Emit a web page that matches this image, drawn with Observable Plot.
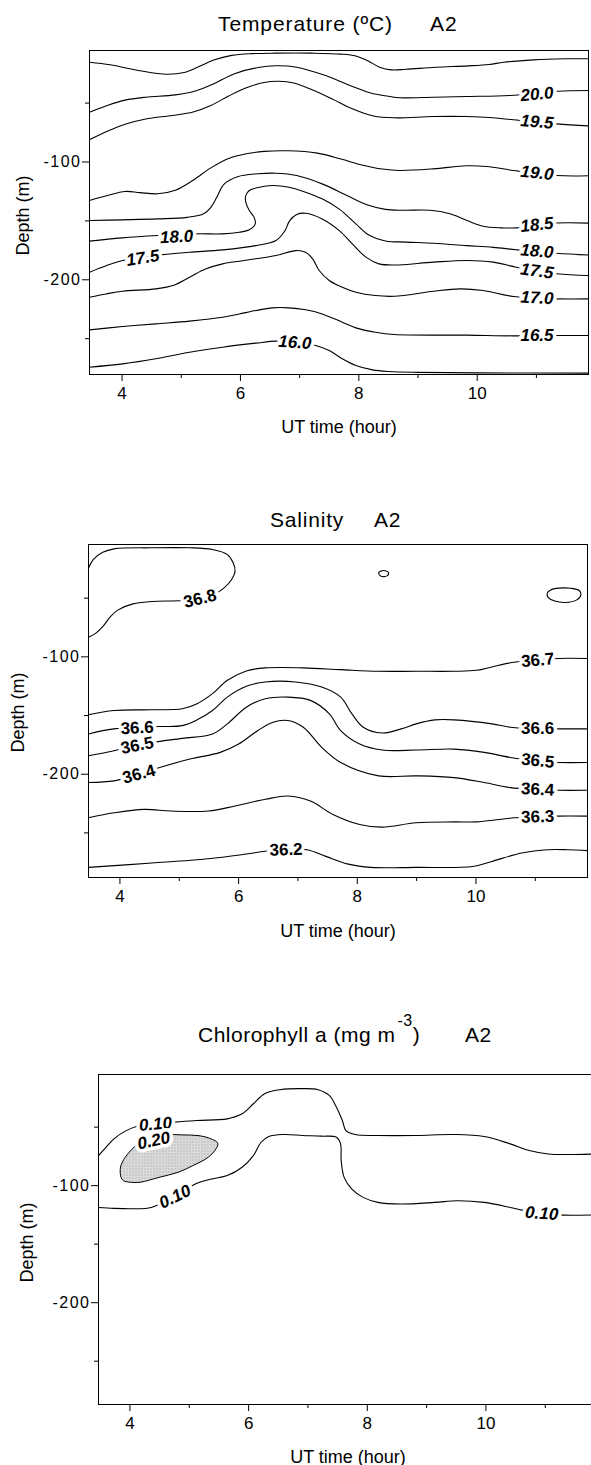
<!DOCTYPE html>
<html>
<head>
<meta charset="utf-8">
<script src="https://cdn.jsdelivr.net/npm/d3@7"></script>
<script src="https://cdn.jsdelivr.net/npm/@observablehq/plot@0.6"></script>
<style>
  html, body { margin: 0; padding: 0; background: #fff; }
  #root { position: relative; width: 591px; height: 1465px; overflow: hidden;
          font-family: "Liberation Sans", Arial, sans-serif; color: #000; background: #fff; }
  .ttl { position: absolute; font-size: 21px; line-height: 21px; white-space: pre; }
  .sup { position: relative; top: -16px; font-size: 16px; margin-left: 2px; }
  g[aria-label="y-axis tick label"] text { letter-spacing: 1.5px; }
  g[aria-label="axis-title"] text { letter-spacing: 1.2px; }
</style>
</head>
<body>
<div id="root"></div>
<script>
// ---------------- shared tick values ----------------
const X_MAJOR = [4, 6, 8, 10];
const X_MINOR = [5, 7, 9, 11];
const Y_MAJOR = [-100, -200];
const Y_MINOR = [-50, -150, -250];

// ---------------- Temperature (°C) isolines: [hour, depth m] ----------------
const t205 = [[3.45,-15.3],[3.8,-17.5],[4.3,-22.5],[4.75,-25.5],[5.05,-24.0],[5.3,-19],[5.55,-13.5],[5.85,-9.5],[6.2,-8],[6.6,-7.6],[7.2,-7.6],[7.7,-8.4],[7.95,-10],[8.15,-14],[8.35,-19.5],[8.55,-21.8],[8.8,-21.3],[9.3,-19.6],[9.85,-18.4],[10.2,-17.2],[10.45,-15.3],[10.95,-13.3],[11.5,-12.4],[11.88,-12.3]];
const t200 = [[3.45,-57.7],[3.75,-52],[4.05,-47.5],[4.4,-45],[4.9,-43],[5.25,-39.5],[5.55,-33.5],[5.9,-25],[6.3,-19.8],[6.6,-18.3],[6.95,-19.5],[7.4,-26],[7.85,-35],[8.2,-41.5],[8.5,-44.2],[8.69,-45.5],[9.26,-45],[9.82,-44.4],[10.55,-43.5],[11.36,-39.9],[11.88,-39.3]];
const t195 = [[3.45,-81.2],[3.75,-74],[4.05,-68],[4.4,-63.5],[4.85,-60.5],[5.2,-57.5],[5.5,-52],[5.8,-44],[6.1,-37],[6.4,-32.5],[6.65,-31.5],[6.9,-33],[7.2,-38.5],[7.55,-46.5],[7.9,-55],[8.25,-61],[8.6,-62.5],[9.26,-61.4],[9.82,-61.4],[10.27,-62.5],[10.61,-64.2],[11.34,-67.6],[11.88,-69.3]];
const t190 = [[3.45,-132.7],[3.75,-128.5],[4.05,-125],[4.3,-126],[4.6,-127],[4.9,-124],[5.2,-115.5],[5.5,-105],[5.8,-97],[6.1,-93],[6.4,-91],[6.8,-90.5],[7.3,-92.5],[7.7,-97.5],[8.05,-102.5],[8.4,-106],[8.69,-107.2],[9.26,-105.8],[9.82,-103.2],[10.16,-103.8],[10.61,-107.2],[11.34,-111.5],[11.88,-111.7]];
const t185 = [[3.45,-149.7],[4.0,-149.1],[4.6,-148.3],[5.1,-147],[5.38,-144],[5.5,-138.5],[5.6,-130],[5.72,-119],[5.95,-112.5],[6.3,-110],[6.6,-109.5],[6.95,-111.5],[7.4,-119],[7.8,-128.5],[8.15,-136.5],[8.45,-140.2],[8.75,-141],[9.2,-141],[9.54,-144],[9.82,-149.5],[10.1,-154.5],[10.4,-155.9],[10.66,-155.9],[11.34,-151.8],[11.88,-151.9]];
const t180 = [[3.45,-167.2],[4.0,-164.4],[4.6,-162.4],[5.25,-161],[5.7,-161],[5.98,-159.6],[6.15,-157.6],[6.25,-152.5],[6.23,-146.8],[6.15,-141.2],[6.09,-134.1],[6.09,-128.5],[6.15,-124.2],[6.32,-121.4],[6.54,-120],[6.82,-121.4],[7.1,-125.6],[7.38,-131.3],[7.67,-140],[7.95,-152.5],[8.17,-162],[8.45,-167],[8.8,-168],[9.26,-169],[9.82,-171],[10.27,-172.5],[10.66,-174.5],[11.34,-177.5],[11.88,-179]];
const t175 = [[3.45,-193.5],[3.73,-188],[4.01,-183.6],[4.69,-178.6],[5.14,-176.6],[5.7,-174.6],[6.26,-171],[6.6,-166.7],[6.75,-158.5],[6.83,-150],[6.95,-144.6],[7.1,-143.5],[7.38,-148.3],[7.67,-158.2],[7.89,-169.5],[8.12,-180.8],[8.34,-186.5],[8.6,-187.5],[9.26,-185],[9.82,-183.6],[10.27,-185],[10.66,-189.3],[11.34,-194.9],[11.88,-196.3]];
const t170 = [[3.45,-214.8],[3.73,-212],[4.01,-209.7],[4.57,-207.7],[4.86,-204.9],[5.14,-197.8],[5.42,-190.7],[5.7,-186.5],[5.98,-184.2],[6.26,-182.2],[6.6,-179.4],[6.94,-175.2],[7.1,-176.6],[7.22,-182.2],[7.33,-192.1],[7.5,-200.6],[7.72,-206.3],[7.95,-210.5],[8.28,-213.4],[8.6,-214],[9.26,-209.7],[9.71,-207.7],[10.1,-209.1],[10.61,-214.2],[11.34,-216.2],[11.88,-216.2]];
const t165 = [[3.45,-242.5],[4.01,-239.7],[4.57,-237.4],[5.14,-235.1],[5.7,-231.8],[5.98,-229],[6.26,-226.1],[6.54,-223.8],[6.82,-223.8],[7.1,-225.5],[7.38,-229],[7.72,-236],[7.95,-240.8],[8.28,-244.5],[8.6,-246.5],[9.82,-247.0],[10.61,-247.6],[11.34,-247.3],[11.88,-247.3]];
const t160 = [[3.45,-274.2],[4.01,-271.4],[4.57,-267.1],[5.14,-261.5],[5.7,-257.2],[6.26,-253.8],[6.6,-252.1],[6.95,-253],[7.27,-255.8],[7.5,-260.1],[7.72,-267.1],[7.95,-272.8],[8.23,-276.5],[8.51,-277.9],[9.0,-278.6],[10.0,-279],[11.88,-279.2]];
const tempLabels = [
  {t: "18.0", h: 4.92, d: -163.6, r: -3},
  {t: "17.5", h: 4.35, d: -181.5, r: -9},
  {t: "16.0", h: 6.92, d: -253.2, r: 4},
  {t: "20.0", h: 11.01, d: -42.5, r: -5},
  {t: "19.5", h: 11.01, d: -66.0, r: 5},
  {t: "19.0", h: 11.01, d: -109.4, r: 6},
  {t: "18.5", h: 11.01, d: -153.4, r: -6},
  {t: "18.0", h: 11.01, d: -175.8, r: 5},
  {t: "17.5", h: 11.01, d: -192.6, r: 8},
  {t: "17.0", h: 11.01, d: -215.4, r: 3},
  {t: "16.5", h: 11.01, d: -247.3, r: 0}
];

// ---------------- Salinity isolines ----------------
const s368 = [[3.47,-24.3],[3.55,-17.1],[3.71,-10.9],[3.90,-8],[4.54,-7.1],[5.18,-7.1],[5.56,-8.6],[5.81,-12.9],[5.91,-20],[5.94,-27.1],[5.88,-34.3],[5.75,-41.4],[5.62,-45.7],[5.35,-50],[5.05,-52],[4.54,-52.9],[4.22,-54.9],[3.97,-60],[3.84,-65.7],[3.71,-74.3],[3.59,-80],[3.47,-83.4]];
const s368Loop1 = [[8.36,-28.5],[8.40,-26.8],[8.47,-26.6],[8.53,-28.3],[8.50,-31],[8.40,-31.4]];
const s368Loop2 = [[11.20,-46],[11.26,-43],[11.40,-41.5],[11.60,-41.6],[11.74,-43.5],[11.77,-47],[11.70,-51.5],[11.50,-53.7],[11.33,-52.5],[11.22,-49.5]];
const s367 = [[3.47,-149.4],[3.90,-145.7],[4.54,-145.1],[5.05,-144.3],[5.30,-140],[5.56,-131.4],[5.81,-120],[6.13,-112],[6.45,-109.4],[7.09,-109.4],[7.72,-110.9],[8.36,-112.3],[8.99,-112.3],[9.63,-112.3],[10.01,-111.5],[10.27,-108.6],[10.58,-105.1],[11.0,-102.9],[11.38,-101.4],[11.88,-101.4]];
const s366 = [[3.47,-165.7],[3.90,-161.4],[4.67,-159.4],[5.05,-158.6],[5.30,-153.7],[5.56,-145.7],[5.81,-134.3],[6.13,-125.1],[6.45,-121.4],[6.96,-121.4],[7.40,-125.7],[7.72,-134.3],[7.91,-148.6],[8.10,-160],[8.42,-164.9],[8.74,-161.4],[8.99,-157.1],[9.31,-153.7],[9.63,-153.7],[10.27,-157.1],[10.58,-160],[11.0,-161.4],[11.38,-161.4],[11.88,-161.4]];
const s365 = [[3.47,-184.3],[3.90,-180],[4.29,-175.5],[4.60,-172.5],[5.05,-169.5],[5.56,-165.7],[5.81,-157.1],[6.13,-142.9],[6.45,-135.7],[6.83,-134.3],[7.21,-137.1],[7.53,-148.6],[7.72,-162.9],[8.04,-174.3],[8.42,-179.4],[8.99,-179.4],[9.63,-178.6],[10.14,-181.4],[10.58,-185.7],[11.0,-188.6],[11.38,-190],[11.88,-190]];
const s364 = [[3.47,-207.1],[3.90,-205.7],[4.32,-200],[4.67,-194.3],[5.18,-187.1],[5.69,-181.4],[6.0,-174.3],[6.32,-162.9],[6.58,-155.7],[6.83,-154.3],[7.09,-160],[7.40,-177.1],[7.72,-190],[8.36,-201.4],[8.99,-201.4],[9.63,-202.9],[10.14,-207.1],[10.58,-211.4],[11.0,-212.9],[11.38,-213.7],[11.88,-213.7]];
const s363 = [[3.47,-237.1],[3.90,-232.9],[4.41,-230],[4.86,-231.4],[5.49,-231.4],[5.94,-227.1],[6.45,-221.4],[6.83,-218.6],[7.21,-222.9],[7.59,-234.3],[8.04,-242.9],[8.42,-245.1],[8.99,-241.4],[9.63,-240.6],[10.01,-240.6],[10.39,-238.6],[10.65,-237.1],[11.0,-236.3],[11.38,-235.7],[11.88,-235.7]];
const s362 = [[3.47,-279.4],[4.54,-275.7],[5.49,-272],[6.13,-268],[6.45,-265.7],[6.80,-264.3],[7.15,-264.3],[7.47,-270],[7.85,-276.6],[8.23,-279.4],[8.99,-279.4],[9.95,-278.6],[10.27,-274.3],[10.77,-267.1],[11.22,-264.3],[11.54,-264.3],[11.88,-265.1]];
const salLabels = [
  {t: "36.8", h: 5.35, d: -50.5, r: -14},
  {t: "36.6", h: 4.29, d: -160.5, r: -3},
  {t: "36.5", h: 4.29, d: -175.5, r: -11},
  {t: "36.4", h: 4.32, d: -200, r: -15},
  {t: "36.2", h: 6.80, d: -264.3, r: -2},
  {t: "36.7", h: 11.04, d: -102.9, r: -5},
  {t: "36.6", h: 11.04, d: -161.4, r: 0},
  {t: "36.5", h: 11.04, d: -188.6, r: 6},
  {t: "36.4", h: 11.04, d: -212.9, r: 3},
  {t: "36.3", h: 11.04, d: -236.3, r: -2}
];

// ---------------- Chlorophyll a isolines ----------------
const c010Upper = [[3.47,-74.3],[3.60,-67.1],[3.73,-60],[3.92,-53.4],[4.11,-49.4],[4.43,-47.3],[4.75,-45.7],[5.13,-44.3],[5.64,-42.9],[5.89,-38.6],[6.08,-30],[6.27,-21.4],[6.53,-18],[6.91,-17.1],[7.17,-18],[7.36,-22.9],[7.48,-32.9],[7.58,-44.3],[7.64,-52.9],[7.80,-56.3],[8.18,-57.1],[8.82,-57.1],[9.46,-56.3],[9.97,-58],[10.41,-64.3],[10.73,-70],[11.05,-72.9],[11.37,-73.4],[11.88,-72.9]];
const c010Lower = [[3.47,-118.6],[3.73,-119.4],[4.04,-119.7],[4.36,-118.6],[4.76,-109],[5.13,-98],[5.38,-94.3],[5.64,-91.4],[5.89,-84.3],[6.08,-74.3],[6.21,-62.9],[6.34,-58],[6.59,-56.3],[6.91,-57.1],[7.23,-57.7],[7.48,-58.6],[7.55,-64.3],[7.56,-78.6],[7.61,-92.9],[7.74,-102.9],[7.93,-110],[8.18,-114.3],[8.57,-115.7],[9.14,-114.3],[9.52,-112.9],[9.97,-114.3],[10.41,-118.6],[10.61,-120.9],[10.94,-123.8],[11.31,-125.2],[11.88,-124.9]];
const c020 = [[3.85,-92.9],[3.84,-84.3],[3.92,-75.7],[4.04,-68.6],[4.20,-61.4],[4.36,-58],[4.62,-56.3],[4.87,-56.6],[5.13,-57.1],[5.32,-59.1],[5.48,-63.7],[5.45,-68.6],[5.32,-75.7],[5.06,-82.9],[4.81,-88.6],[4.49,-92.9],[4.17,-97.1],[4.01,-97.1],[3.89,-95.7]];
const chlLabels = [
  {t: "0.10", h: 4.43, d: -47.5, r: -5},
  {t: "0.20", h: 4.40, d: -61.5, r: -12},
  {t: "0.10", h: 4.76, d: -109.5, r: -26},
  {t: "0.10", h: 10.94, d: -123.8, r: 4}
];

// ---------------- drawing ----------------
const FONT = "'Liberation Sans', Arial, sans-serif";
const root = document.getElementById("root");

function drawPanel(cfg) {
  const lineData = cfg.lines.flatMap((pts, i) => pts.map(([h, d]) => ({id: i, h, d})));
  const marks = [];
  (cfg.fills || []).forEach(pts => marks.push(
    Plot.line(pts, {x: p => p[0], y: p => p[1], curve: "catmull-rom-closed", fill: "url(#stipple)", stroke: "black", strokeWidth: 1})
  ));
  marks.push(Plot.line(lineData, {x: "h", y: "d", z: "id", curve: "catmull-rom", stroke: "black", strokeWidth: 1.1}));
  (cfg.loops || []).forEach(pts => marks.push(
    Plot.line(pts, {x: p => p[0], y: p => p[1], curve: "catmull-rom-closed", fill: "none", stroke: "black", strokeWidth: 1.1})
  ));
  marks.push(
    Plot.text(cfg.labels, {x: "h", y: "d", text: "t", rotate: "r", fontSize: 17, fontWeight: "bold",
      fontStyle: cfg.italic ? "italic" : "normal", fill: "black", stroke: "white", strokeWidth: 7,
      paintOrder: "stroke", textAnchor: "middle", lineAnchor: "middle"}),
    Plot.frame({stroke: "black", strokeWidth: 1}),
    Plot.axisX(X_MAJOR, {tickSize: 7, tickPadding: 5, fontSize: 17, tickFormat: d => String(d), label: null}),
    Plot.axisX(X_MINOR, {tickSize: 4, tickFormat: () => "", label: null}),
    Plot.axisY(Y_MAJOR, {tickSize: 7, tickPadding: 1, fontSize: 16, tickFormat: d => String(d), label: null}),
    Plot.axisY(Y_MINOR, {tickSize: 4, tickFormat: () => "", label: null}),
    Plot.text(["UT time (hour)"], {text: d => d, frameAnchor: "bottom", dy: cfg.utDy, lineAnchor: "bottom",
      textAnchor: "middle", fontSize: 18, ariaLabel: "axis-title"}),
    Plot.text(["Depth (m)"], {text: d => d, frameAnchor: "left", dx: cfg.depthDx, dy: cfg.depthDy, rotate: -90,
      lineAnchor: "middle", textAnchor: "middle", fontSize: 18, ariaLabel: "axis-title"})
  );
  const svg = Plot.plot({
    width: cfg.width, height: cfg.height,
    marginLeft: cfg.mL, marginRight: cfg.mR, marginTop: cfg.mT, marginBottom: cfg.mB,
    x: {domain: cfg.xDomain, label: null},
    y: {domain: cfg.yDomain, label: null},
    style: {fontFamily: FONT, background: "transparent", color: "black"},
    marks
  });
  if (cfg.fills) {
    const defs = d3.select(svg).insert("defs", ":first-child");
    const pat = defs.append("pattern").attr("id", "stipple").attr("width", 3).attr("height", 3)
      .attr("patternUnits", "userSpaceOnUse");
    pat.append("rect").attr("width", 3).attr("height", 3).attr("fill", "#e4e4e4");
    pat.append("rect").attr("x", 0).attr("y", 0).attr("width", 1).attr("height", 1).attr("fill", "#8c8c8c");
    pat.append("rect").attr("x", 1.5).attr("y", 1.5).attr("width", 1).attr("height", 1).attr("fill", "#a8a8a8");
  }
  svg.style.position = "absolute";
  svg.style.left = "0px";
  svg.style.top = cfg.top + "px";
  svg.style.maxWidth = "none";
  svg.style.height = cfg.height + "px";
  root.appendChild(svg);
}

function title(parts, baseline, ls) {
  parts.forEach(p => {
    const div = document.createElement("div");
    div.className = "ttl";
    div.style.left = p.left + "px";
    div.style.top = (baseline - 17.8) + "px";
    div.style.letterSpacing = ls + "px";
    div.innerHTML = p.html;
    root.appendChild(div);
  });
}

// Panel 1: Temperature
title([{html: "Temperature (ºC)", left: 218}, {html: "A2", left: 430}], 31, 0.9);
drawPanel({
  lines: [t205, t200, t195, t190, t185, t180, t175, t170, t165, t160],
  labels: tempLabels, italic: true,
  xDomain: [3.45, 11.88], yDomain: [-280.4, -5.35],
  top: 0, width: 591, height: 444, mL: 89, mR: 3, mT: 50, mB: 70,
  utDy: 58, depthDx: -66.5, depthDy: 3
});

// Panel 2: Salinity
title([{html: "Salinity", left: 270}, {html: "A2", left: 374}], 526.7, 0.8);
drawPanel({
  lines: [s368, s367, s366, s365, s364, s363, s362],
  loops: [s368Loop1, s368Loop2],
  labels: salLabels, italic: false,
  xDomain: [3.47, 11.88], yDomain: [-288, -4.3],
  top: 494, width: 591, height: 453, mL: 88, mR: 4, mT: 50, mB: 70,
  utDy: 59, depthDx: -70, depthDy: 1.5
});

// Panel 3: Chlorophyll a
title([{html: "Chlorophyll a (mg m<span class=\"sup\">-3</span>)", left: 198}, {html: "A2", left: 465}], 1041.7, 0.5);
drawPanel({
  lines: [c010Upper, c010Lower],
  fills: [c020],
  labels: chlLabels, italic: true,
  xDomain: [3.47, 11.88], yDomain: [-287, -5],
  top: 1024, width: 600, height: 441, mL: 98, mR: 3, mT: 50, mB: 61,
  utDy: 58, depthDx: -71, depthDy: 3
});
</script>
</body>
</html>
